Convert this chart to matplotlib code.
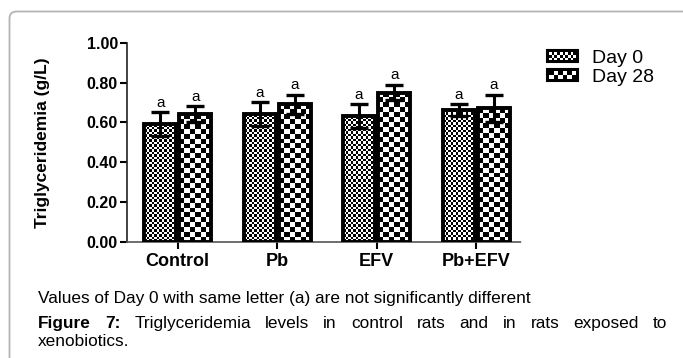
import numpy as np
import matplotlib
matplotlib.use('Agg')
import matplotlib.pyplot as plt
from matplotlib.patches import Rectangle, FancyBboxPatch
from matplotlib.legend_handler import HandlerBase
from matplotlib.transforms import IdentityTransform

# ---------------- data ----------------
groups = ['Control', 'Pb', 'EFV', 'Pb+EFV']
day0 = [0.59, 0.64, 0.63, 0.66]
day0_err = [0.06, 0.06, 0.06, 0.03]
day28 = [0.64, 0.69, 0.75, 0.67]
day28_err = [0.04, 0.05, 0.04, 0.07]
sig_day0 = ['a', 'a', 'a', 'a']
sig_day28 = ['a', 'a', 'a', 'a']
series_labels = ['Day 0', 'Day 28']
yticks = [0.0, 0.2, 0.4, 0.6, 0.8, 1.0]
ylabel = 'Triglyceridemia (g/L)'
note = 'Values of Day 0 with same letter (a) are not significantly different'
caption_bold = ['Figure', '7:']
caption_line1 = 'Triglyceridemia levels in control rats and in rats exposed to'
caption_line2 = 'xenobiotics.'

W, H, DPI = 683, 358, 100
plt.rcParams['font.family'] = ['Liberation Sans', 'DejaVu Sans']
fig = plt.figure(figsize=(W / DPI, H / DPI), dpi=DPI)

# rounded frame
frame = FancyBboxPatch((9.5, -30), 720, (H - 11.5) + 30,
                       boxstyle='round,pad=0,rounding_size=7',
                       transform=IdentityTransform(), facecolor='none',
                       edgecolor='#b4b4b4', lw=1.3)
fig.add_artist(frame)

ax_l, ax_r, ax_t, ax_b = 127, 522, 42.7, 242
ax = fig.add_axes([ax_l / W, (H - ax_b) / H, (ax_r - ax_l) / W, (ax_b - ax_t) / H])

x = np.arange(len(groups))
off, bw = 0.177, 0.324
xlim = (-0.51, 3.46)
ylim = (0, 1.0)

bars0 = ax.bar(x - off, day0, bw, facecolor='none', edgecolor='black', lw=2.8, zorder=3)
bars28 = ax.bar(x + off, day28, bw, facecolor='none', edgecolor='black', lw=2.8, zorder=3)
ax.errorbar(x - off, day0, yerr=day0_err, fmt='none', ecolor='black',
            elinewidth=2.2, capsize=6.5, capthick=2.4, zorder=4)
ax.errorbar(x + off, day28, yerr=day28_err, fmt='none', ecolor='black',
            elinewidth=2.2, capsize=6.5, capthick=2.4, zorder=4)
ax.set_xlim(*xlim)
ax.set_ylim(*ylim)


def checker_fill(bars, cell_px):
    for rect in bars:
        x0, y0 = rect.get_x(), rect.get_y()
        w, h = rect.get_width(), rect.get_height()
        p0 = ax.transData.transform((x0, y0))
        p1 = ax.transData.transform((x0 + w, y0 + h))
        nc = max(1, int(round(abs(p1[0] - p0[0]) / cell_px)))
        nr = max(1, int(round(abs(p1[1] - p0[1]) / cell_px)))
        arr = np.add.outer(np.arange(nr), np.arange(nc)) % 2
        im = ax.imshow(arr, extent=(x0, x0 + w, y0, y0 + h), cmap='gray',
                       vmin=0, vmax=1, interpolation='nearest', aspect='auto',
                       origin='lower', zorder=2)
        im.set_clip_path(rect)


checker_fill(bars0, 2.5)
checker_fill(bars28, 5.0)
ax.set_xlim(*xlim)
ax.set_ylim(*ylim)

for xi, v, e, s in zip(x - off, day0, day0_err, sig_day0):
    ax.annotate(s, (xi, v + e), xytext=(0, 1.5), textcoords='offset points',
                ha='center', va='bottom', fontsize=11)
for xi, v, e, s in zip(x + off, day28, day28_err, sig_day28):
    ax.annotate(s, (xi, v + e), xytext=(0, 1.5), textcoords='offset points',
                ha='center', va='bottom', fontsize=11)

ax.spines['top'].set_visible(False)
ax.spines['right'].set_visible(False)
ax.spines['left'].set_color('#222222')
ax.spines['left'].set_linewidth(1.2)
ax.spines['bottom'].set_color('#555555')
ax.spines['bottom'].set_linewidth(1.2)
ax.spines['bottom'].set_linestyle((0, (2, 1)))

ax.set_yticks(yticks, [f'{v:.2f}' for v in yticks], fontweight='bold', fontsize=11.5)
ax.set_xticks(x, groups, fontweight='bold', fontsize=13)
ax.tick_params(axis='y', length=5, width=1.5, pad=1.5, colors='black')
ax.tick_params(axis='x', length=5, width=1.5, pad=3, colors='black')
ax.set_ylabel(ylabel, fontweight='bold', fontsize=12.5)
ax.yaxis.set_label_coords((50 - ax_l) / (ax_r - ax_l), 0.5)


class CheckerHandler(HandlerBase):
    def __init__(self, cell):
        super().__init__()
        self.cell = cell

    def create_artists(self, legend, orig_handle, xdescent, ydescent,
                       width, height, fontsize, trans):
        arts = [Rectangle((-xdescent, -ydescent), width, height, facecolor='black',
                          edgecolor='black', lw=1.5, transform=trans)]
        inset = 1.5
        iw, ih = width - 2 * inset, height - 2 * inset
        nc = max(1, int(round(iw / self.cell)))
        nr = max(1, int(round(ih / self.cell)))
        cw, chh = iw / nc, ih / nr
        for r in range(nr):
            for c in range(nc):
                if (r + c) % 2 == 0:
                    arts.append(Rectangle((-xdescent + inset + c * cw, -ydescent + inset + r * chh),
                                          cw, chh, facecolor='white', edgecolor='none',
                                          transform=trans))
        return arts


h0 = Rectangle((0, 0), 1, 1)
h28 = Rectangle((0, 0), 1, 1)
fig.legend([h0, h28], series_labels, loc='upper left',
           bbox_to_anchor=(547 / W, 1 - 50 / H), frameon=False, fontsize=14,
           handlelength=1.6, handleheight=0.6, handletextpad=0.7,
           labelspacing=0.1, borderpad=0, borderaxespad=0,
           handler_map={h0: CheckerHandler(1.9), h28: CheckerHandler(3.4)})

# caption
fig.text(38 / W, 1 - 303 / H, note, fontsize=12.4, va='baseline')


def justified(words, weights, x0, x1, yb, size):
    texts = [fig.text(0, 1 - yb / H, w, fontweight=wt, fontsize=size, va='baseline')
             for w, wt in zip(words, weights)]
    r = fig.canvas.get_renderer()
    widths = [t.get_window_extent(r).width for t in texts]
    gap = (x1 - x0 - sum(widths)) / (len(texts) - 1)
    pos = x0
    for t, wd in zip(texts, widths):
        t.set_x(pos / W)
        pos += wd + gap


words = caption_bold + caption_line1.split()
weights = ['bold'] * len(caption_bold) + ['normal'] * len(caption_line1.split())
justified(words, weights, 38, 667, 328, 12.4)
fig.text(38 / W, 1 - 346 / H, caption_line2, fontsize=12.4, va='baseline')

fig.savefig('out.png', dpi=DPI)
